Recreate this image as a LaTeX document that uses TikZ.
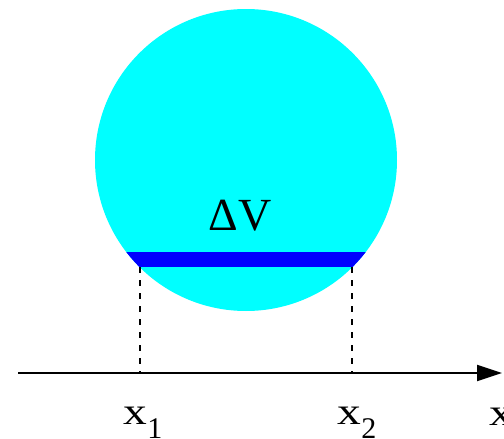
\documentclass[tikz,border=0pt]{standalone}
\usepackage{fontspec}
\setmainfont{Liberation Serif}
\usetikzlibrary{arrows.meta}
\definecolor{ballcyan}{RGB}{0,255,255}
\definecolor{bandblue}{RGB}{0,0,255}
\tikzset{
  lbl/.style={anchor=base, inner sep=0pt, font=\fontsize{38}{40}\selectfont},
  guide/.style={line width=1.5pt, dash pattern=on 6pt off 7pt},
  axisline/.style={line width=2pt, -{Triangle[length=25pt,width=16pt]}}
}
\newcommand{\wx}{\scalebox{1.25}[1]{x}}
\newcommand{\subx}[1]{\wx\raisebox{-14pt}{\fontsize{30}{31}\selectfont #1}}
\begin{document}
\begin{tikzpicture}[x=1pt,y=-1pt]
\useasboundingbox (0,0) rectangle (504,439);
% sphere
\coordinate (c) at (246,160);
\fill[ballcyan] (c) circle[radius=151];
\begin{scope}
  \clip (c) circle[radius=151];
  \fill[bandblue] (90,252) rectangle (400,267);
\end{scope}
% axis
\coordinate (a0) at (18,373);
\coordinate (a1) at (502,373);
\draw[axisline] (a0) -- (a1);
% guides
\coordinate (g1t) at (140,267);
\coordinate (g1b) at (140,373);
\coordinate (g2t) at (352,267);
\coordinate (g2b) at (352,373);
\draw[guide] (g1t) -- (g1b);
\draw[guide] (g2t) -- (g2b);
% labels
\node[lbl, font=\fontsize{46}{48}\selectfont] (dv) at (240,230) {ΔV};
\node[lbl] (x1) at (143,424) {\subx{1}};
\node[lbl] (x2) at (357,424) {\subx{2}};
\node[lbl, anchor=base west] (xx) at (489,425) {\wx};
\end{tikzpicture}
\end{document}
